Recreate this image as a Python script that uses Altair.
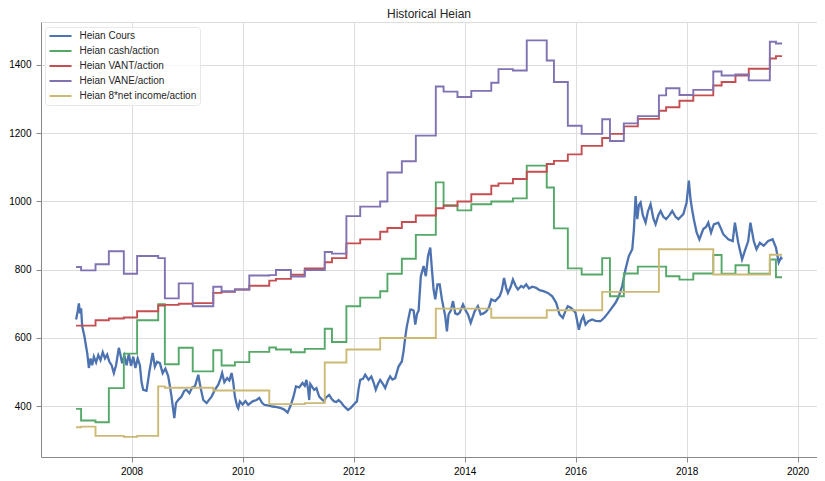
import altair as alt
import pandas as pd

# ---------------- data ----------------
series_names = ["Heian Cours", "Heian cash/action", "Heian VANT/action",
                "Heian VANE/action", "Heian 8*net income/action"]
series_colors = ["#4C72B0", "#55A868", "#C44E52", "#8172B2", "#CCB974"]

# change dates of the step series (decimal years); last entry = end of data
step_years = [2007.00, 2007.09, 2007.35, 2007.59, 2007.86, 2008.10, 2008.48, 2008.60, 2008.85,
              2009.10, 2009.47, 2009.62, 2009.86, 2010.12, 2010.48, 2010.60, 2010.87, 2011.12,
              2011.48, 2011.61, 2011.87, 2012.12, 2012.48, 2012.61, 2012.87, 2013.12, 2013.48,
              2013.62, 2013.87, 2014.12, 2014.48, 2014.61, 2014.87, 2015.12, 2015.48, 2015.61,
              2015.86, 2016.11, 2016.48, 2016.62, 2016.87, 2017.12, 2017.50, 2017.63, 2017.87,
              2018.12, 2018.48, 2018.63, 2018.88, 2019.12, 2019.50, 2019.61, 2019.72]

cash_action = [392, 358, 353, 453, 554, 652, 699, 523, 571, 502, 564, 519, 529, 559, 572, 566,
               558, 568, 627, 588, 693, 718, 737, 788, 832, 902, 1056, 989, 974, 992, 1000, 1000,
               1009, 1105, 1041, 921, 804, 786, 834, 722, 789, 809, 809, 781, 771, 789, 843, 788,
               813, 788, 830, 778, 778]

vant_action = [636, 636, 652, 657, 660, 678, 695, 697, 700, 702, 732, 735, 742, 753, 768, 773,
               785, 804, 822, 834, 877, 889, 911, 922, 940, 959, 980, 987, 1000, 1021, 1046, 1053,
               1066, 1087, 1110, 1119, 1138, 1163, 1186, 1198, 1220, 1242, 1266, 1276, 1295, 1311,
               1340, 1350, 1369, 1389, 1419, 1426, 1426]

vane_action = [808, 798, 816, 854, 788, 840, 834, 716, 760, 693, 750, 737, 742, 783, 784, 799,
               780, 799, 852, 847, 957, 985, 1000, 1085, 1118, 1193, 1337, 1322, 1306, 1324, 1348,
               1388, 1384, 1472, 1413, 1350, 1222, 1198, 1241, 1177, 1229, 1250, 1311, 1332, 1312,
               1327, 1381, 1369, 1372, 1355, 1468, 1463, 1463]

net_income_8 = [338, 340, 313, 313, 310, 313, 458, 454, 454, 454, 446, 446, 446, 446, 406, 406,
                406, 409, 528, 528, 566, 566, 600, 600, 600, 600, 686, 686, 686, 686, 659, 659,
                659, 659, 681, 681, 681, 681, 735, 735, 735, 735, 860, 860, 860, 860, 786, 786,
                786, 786, 844, 844, 844]

cours_years = [2007.00, 2007.03, 2007.05, 2007.07, 2007.09, 2007.11, 2007.15, 2007.18, 2007.20,
               2007.23, 2007.26, 2007.29, 2007.32, 2007.36, 2007.40, 2007.44, 2007.48, 2007.52,
               2007.56, 2007.60, 2007.64, 2007.68, 2007.72, 2007.77, 2007.80, 2007.83, 2007.87,
               2007.91, 2007.95, 2007.99, 2008.03, 2008.07, 2008.11, 2008.15, 2008.18, 2008.21,
               2008.27, 2008.32, 2008.38, 2008.42, 2008.46, 2008.51, 2008.56, 2008.61, 2008.66,
               2008.69, 2008.72, 2008.77, 2008.80, 2008.85, 2008.90, 2008.95, 2008.99, 2009.04,
               2009.09, 2009.14, 2009.20, 2009.24, 2009.29, 2009.35, 2009.40, 2009.44, 2009.50,
               2009.56, 2009.60, 2009.63, 2009.67, 2009.72, 2009.76, 2009.80, 2009.83, 2009.86,
               2009.90, 2009.92, 2009.95, 2010.00, 2010.05, 2010.10, 2010.18, 2010.25, 2010.30,
               2010.35, 2010.39, 2010.45, 2010.54, 2010.62, 2010.69, 2010.75, 2010.81, 2010.87,
               2010.92, 2010.96, 2011.02, 2011.08, 2011.12, 2011.15, 2011.18, 2011.20, 2011.22,
               2011.26, 2011.29, 2011.33, 2011.38, 2011.43, 2011.47, 2011.50, 2011.56, 2011.61,
               2011.65, 2011.69, 2011.73, 2011.78, 2011.82, 2011.86, 2011.90, 2011.95, 2012.00,
               2012.06, 2012.09, 2012.12, 2012.17, 2012.21, 2012.27, 2012.32, 2012.36, 2012.40,
               2012.44, 2012.48, 2012.53, 2012.57, 2012.62, 2012.66, 2012.70, 2012.75, 2012.81,
               2012.87, 2012.90, 2012.93, 2012.96, 2013.02, 2013.05, 2013.08, 2013.11, 2013.14,
               2013.17, 2013.21, 2013.26, 2013.30, 2013.34, 2013.38, 2013.41, 2013.44, 2013.47,
               2013.51, 2013.55, 2013.59, 2013.65, 2013.68, 2013.71, 2013.75, 2013.79, 2013.83,
               2013.87, 2013.91, 2013.97, 2014.02, 2014.06, 2014.11, 2014.18, 2014.24, 2014.29,
               2014.34, 2014.39, 2014.44, 2014.48, 2014.55, 2014.63, 2014.67, 2014.71, 2014.75,
               2014.78, 2014.83, 2014.87, 2014.92, 2014.96, 2015.02, 2015.06, 2015.11, 2015.16,
               2015.22, 2015.29, 2015.35, 2015.42, 2015.50, 2015.58, 2015.65, 2015.71, 2015.77,
               2015.82, 2015.86, 2015.92, 2016.00, 2016.06, 2016.10, 2016.14, 2016.18, 2016.23,
               2016.30, 2016.36, 2016.42, 2016.45, 2016.52, 2016.58, 2016.63, 2016.72, 2016.78,
               2016.84, 2016.90, 2016.96, 2017.02, 2017.05, 2017.08, 2017.11, 2017.14, 2017.17,
               2017.21, 2017.26, 2017.30, 2017.35, 2017.40, 2017.44, 2017.49, 2017.53, 2017.58,
               2017.63, 2017.69, 2017.74, 2017.80, 2017.85, 2017.94, 2018.00, 2018.04, 2018.07,
               2018.10, 2018.13, 2018.18, 2018.23, 2018.30, 2018.35, 2018.39, 2018.44, 2018.49,
               2018.57, 2018.62, 2018.66, 2018.75, 2018.83, 2018.87, 2018.93, 2019.00, 2019.05,
               2019.11, 2019.15, 2019.21, 2019.26, 2019.32, 2019.39, 2019.47, 2019.55, 2019.61,
               2019.66, 2019.70, 2019.72]

cours_values = [654, 680, 701, 672, 687, 634, 605, 575, 556, 512, 540, 520, 545, 528, 550, 535,
                558, 540, 551, 530, 520, 497, 520, 571, 550, 526, 548, 520, 553, 518, 545, 512,
                540, 520, 470, 448, 445, 500, 556, 516, 530, 526, 497, 510, 488, 460, 428, 365,
                409, 420, 428, 445, 448, 438, 455, 458, 492, 455, 418, 409, 420, 428, 448, 463,
                480, 497, 470, 482, 475, 497, 470, 428, 400, 394, 414, 405, 415, 404, 414, 418,
                424, 410, 404, 402, 399, 397, 394, 390, 381, 404, 430, 458, 455, 468, 460, 477,
                450, 418, 465, 455, 448, 453, 428, 420, 414, 425, 433, 420, 414, 412, 418, 410,
                401, 395, 389, 395, 404, 414, 450, 477, 480, 492, 477, 487, 470, 448, 465, 477,
                465, 453, 475, 487, 478, 482, 516, 531, 560, 600, 634, 683, 683, 680, 639, 670,
                680, 781, 811, 781, 840, 865, 801, 742, 713, 757, 757, 713, 664, 619, 669, 680,
                708, 672, 669, 674, 698, 680, 669, 644, 678, 693, 669, 672, 678, 690, 713, 708,
                722, 740, 776, 745, 732, 750, 771, 752, 742, 752, 748, 757, 745, 750, 747, 740,
                737, 732, 722, 703, 669, 659, 680, 693, 688, 674, 624, 650, 664, 639, 649, 654,
                650, 649, 649, 660, 672, 683, 703, 722, 752, 801, 840, 860, 919, 1016, 948, 990,
                997, 960, 938, 970, 992, 950, 933, 960, 972, 955, 948, 960, 972, 955, 948, 963,
                997, 1061, 1007, 975, 948, 909, 889, 919, 925, 938, 909, 933, 938, 920, 904, 889,
                884, 938, 879, 830, 855, 884, 938, 884, 860, 879, 870, 884, 889, 865, 821, 835, 830]

y_ticks = [400, 600, 800, 1000, 1200, 1400]
x_tick_years = [2008, 2010, 2012, 2014, 2016, 2018, 2020]


def to_iso(y):
    yr = int(y)
    ts = pd.Timestamp(year=yr, month=1, day=1) + pd.Timedelta(days=(y - yr) * 365.25)
    return ts.strftime("%Y-%m-%dT%H:%M:%S")


# ---------------- tables ----------------
step_rows = []
for name, vals in zip(series_names[1:], [cash_action, vant_action, vane_action, net_income_8]):
    for i, (yy, v) in enumerate(zip(step_years, vals)):
        step_rows.append({"date": to_iso(yy), "value": v, "series": name, "i": i})
df_steps = pd.DataFrame(step_rows)

df_cours = pd.DataFrame({
    "date": [to_iso(y) for y in cours_years],
    "value": cours_values,
    "series": series_names[0],
    "i": list(range(len(cours_years))),
})

FONT = "Liberation Sans"
TXT = "#262626"

x_enc = alt.X(
    "date:T",
    title=None,
    scale=alt.Scale(domain=[alt.DateTime(year=2006, month=5, date=15),
                            alt.DateTime(year=2020, month=5, date=8)]),
    axis=alt.Axis(values=[alt.DateTime(year=y, month=1, date=1) for y in x_tick_years],
                  format="%Y", labelPadding=4),
)
y_enc = alt.Y(
    "value:Q",
    title=None,
    scale=alt.Scale(domain=[251, 1526], nice=False, zero=False),
    axis=alt.Axis(values=y_ticks, format="d", labelPadding=5),
)
color_enc = alt.Color(
    "series:N",
    scale=alt.Scale(domain=series_names, range=series_colors),
    legend=alt.Legend(
        title=None, orient="none", legendX=4, legendY=5,
        symbolType="M-2.45,0H2.45", symbolSize=81, symbolStrokeWidth=2,
        symbolOffset=6.5, labelOffset=13.5,
        padding=3.5, rowPadding=4,
        labelFont=FONT, labelFontSize=10, labelColor=TXT, labelLimit=300,
        fillColor="rgba(255,255,255,0.8)", strokeColor="#e8e8e8", cornerRadius=3,
    ),
)

cours = alt.Chart(df_cours).mark_line(strokeWidth=2.3, clip=True).encode(
    x=x_enc, y=y_enc, color=color_enc, order="i:Q")

steps = alt.Chart(df_steps).mark_line(interpolate="step-after", strokeWidth=1.9, clip=True).encode(
    x=x_enc, y=y_enc, color=color_enc, order="i:Q")

chart = alt.layer(cours, steps).properties(
    width=776, height=435,
    title=alt.TitleParams("Historical Heian", font=FONT, fontSize=12, fontWeight="normal",
                          color=TXT, anchor="middle", offset=1),
    autosize=alt.AutoSizeParams(type="pad"),
    padding=0,
).configure_view(
    stroke="#cccccc", strokeWidth=1
).configure_axis(
    domain=False, ticks=False, tickSize=0, grid=True, gridColor="#cccccc", gridWidth=1,
    labelFont=FONT, labelFontSize=10, labelColor=TXT,
).configure(background="white")

chart.save("out.html", embed_options={"renderer": "svg", "actions": False})
